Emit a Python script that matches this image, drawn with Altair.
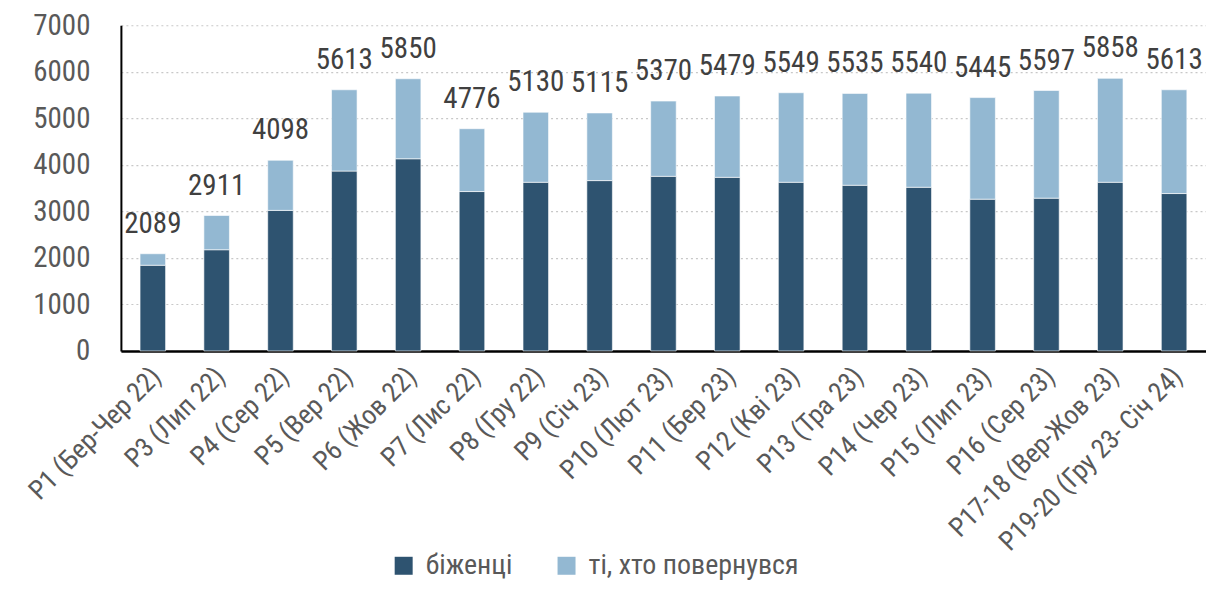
import altair as alt
import pandas as pd

categories = ["P1 (Бер-Чер 22)", "P3 (Лип 22)", "P4 (Сер 22)", "P5 (Вер 22)", "P6 (Жов 22)",
              "P7 (Лис 22)", "P8 (Гру 22)", "P9 (Січ 23)", "P10 (Лют 23)", "P11 (Бер 23)",
              "P12 (Кві 23)", "P13 (Тра 23)", "P14 (Чер 23)", "P15 (Лип 23)", "P16 (Сер 23)",
              "P17-18 (Вер-Жов 23)", "P19-20 (Гру 23- Січ 24)"]
totals = [2089, 2911, 4098, 5613, 5850, 4776, 5130, 5115, 5370, 5479, 5549, 5535, 5540, 5445, 5597, 5858, 5613]
refugees = [1842, 2175, 3021, 3866, 4130, 3426, 3625, 3661, 3753, 3731, 3625, 3561, 3518, 3262, 3284, 3625, 3383]
series = ["біженці", "ті, хто повернувся"]
colors = ["#2E5370", "#93B8D2"]

FONT = "Liberation Sans Narrow, Roboto Condensed, Roboto, sans-serif"

rows = []
for c, t, r in zip(categories, totals, refugees):
    rows.append({"cat": c, "series": series[0], "value": r, "ord": 0})
    rows.append({"cat": c, "series": series[1], "value": t - r, "ord": 1})
df = pd.DataFrame(rows)
tot_df = pd.DataFrame({"cat": categories, "total": totals})

x = alt.X("cat:N", sort=categories, title=None,
          scale=alt.Scale(paddingInner=0.6, paddingOuter=0.3),
          axis=alt.Axis(labelAngle=-45, labelAlign="right", labelBaseline="top",
                        labelFontSize=27, labelColor="#595959", labelFont=FONT,
                        ticks=False, domainColor="#000000", domainWidth=2.5,
                        labelPadding=12, labelOffset=-5, labelLimit=400))

bars = alt.Chart(df).mark_bar(stroke="#ffffff", strokeWidth=0.6).encode(
    x=x,
    y=alt.Y("value:Q", stack="zero", title=None,
            scale=alt.Scale(domain=[0, 7000], nice=False),
            axis=alt.Axis(values=[0, 1000, 2000, 3000, 4000, 5000, 6000, 7000], format="d",
                          labelFontSize=29, labelColor="#595959", labelFont=FONT,
                          ticks=False, domainColor="#000000", domainWidth=2,
                          gridColor="#c8c8c8", gridDash=[2, 3], gridWidth=1.2,
                          labelPadding=31)),
    color=alt.Color("series:N", sort=series,
                    scale=alt.Scale(domain=series, range=colors),
                    legend=alt.Legend(orient="none", legendX=269, legendY=527,
                                      direction="horizontal", title=None,
                                      symbolType="square", symbolSize=324,
                                      symbolStrokeWidth=0, labelFontSize=28,
                                      labelColor="#595959", labelFont=FONT,
                                      labelOffset=8, labelLimit=400,
                                      columnPadding=40)),
    order=alt.Order("ord:Q", sort="ascending"),
)

labels = alt.Chart(tot_df).mark_text(baseline="bottom", dy=-15, fontSize=29,
                                     color="#404040", font=FONT).encode(
    x=alt.X("cat:N", sort=categories),
    y=alt.Y("total:Q"),
    text=alt.Text("total:Q", format="d"),
)

chart = alt.layer(bars, labels).properties(
    width=1086, height=326,
    autosize=alt.AutoSizeParams(type="none"),
    padding={"left": 113, "right": 0, "top": 17, "bottom": 233},
).configure_view(stroke=None).configure_axisX(grid=False)

chart.save("out.html", embed_options={"renderer": "svg", "actions": False})
